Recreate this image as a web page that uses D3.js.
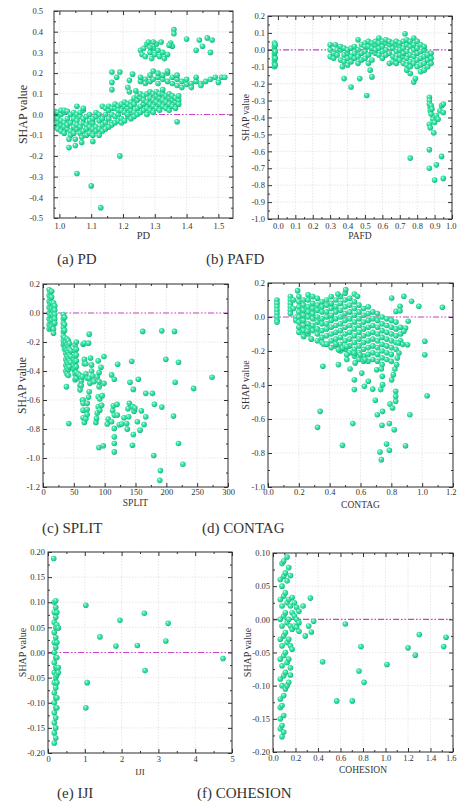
<!DOCTYPE html>
<html><head><meta charset="utf-8">
<script src="https://cdn.jsdelivr.net/npm/d3@7"></script>
<style>
body{margin:0;background:#fff}
svg{display:block}
text{font-family:"Liberation Serif","Times New Roman",serif;fill:#333}
</style>
</head><body>
<svg id="chart" width="457" height="802"></svg>
<script>
// ---------------- DATA ----------------
const pdXTicks = [1.0,1.1,1.2,1.3,1.4,1.5];
const pdYTicks = [-0.5,-0.4,-0.3,-0.2,-0.1,0.0,0.1,0.2,0.3,0.4,0.5];
const pdShap = [
[0.975,0.01],[0.975,-0.03],[0.975,-0.05],
[0.985,0.0],[0.985,-0.06],[0.985,0.015],[0.985,-0.02],
[0.995,-0.04],[0.995,0.01],[0.995,-0.07],[0.995,-0.02],
[1.005,0.0],[1.005,-0.05],[1.005,0.02],[1.005,-0.08],[1.005,-0.03],
[1.015,0.01],[1.015,-0.04],[1.015,-0.09],[1.015,-0.06],[1.015,0.02],
[1.025,-0.02],[1.025,-0.07],[1.025,0.015],[1.025,-0.05],
[1.035,0.0],[1.035,-0.04],[1.035,-0.08],[1.035,-0.1],
[1.045,-0.02],[1.045,-0.06],[1.045,0.01],[1.045,-0.09],
[1.055,-0.03],[1.055,-0.07],[1.055,0.0],[1.055,-0.05],
[1.065,-0.01],[1.065,-0.06],[1.065,-0.09],[1.065,0.01],
[1.075,-0.04],[1.075,-0.02],[1.075,-0.08],[1.075,0.02],
[1.085,-0.05],[1.085,-0.01],[1.085,-0.07],[1.085,-0.1],
[1.095,-0.03],[1.095,-0.06],[1.095,0.0],[1.095,-0.09],
[1.105,-0.04],[1.105,-0.07],[1.105,-0.02],[1.105,-0.1],
[1.115,-0.06],[1.115,-0.01],[1.115,-0.08],[1.115,0.01],
[1.125,-0.03],[1.125,-0.07],[1.125,-0.1],[1.125,0.0],
[1.135,-0.05],[1.135,-0.02],[1.135,-0.08],[1.135,0.04],
[1.145,-0.04],[1.145,0.0],[1.145,-0.07],[1.145,0.03],
[1.155,-0.02],[1.155,-0.06],[1.155,0.02],[1.155,0.04],
[1.165,-0.04],[1.165,0.0],[1.165,-0.05],[1.165,0.03],
[1.175,-0.01],[1.175,0.03],[1.175,-0.04],[1.175,0.05],
[1.185,0.0],[1.185,-0.03],[1.185,0.04],[1.185,0.02],
[1.195,0.02],[1.195,-0.02],[1.195,0.05],[1.195,-0.04],
[1.205,0.01],[1.205,0.04],[1.205,-0.03],[1.205,0.06],
[1.215,0.03],[1.215,-0.01],[1.215,0.05],[1.215,0.0],
[1.225,0.02],[1.225,0.06],[1.225,-0.02],[1.225,0.04],
[1.235,0.01],[1.235,0.05],[1.235,0.08],[1.235,-0.01],
[1.245,0.03],[1.245,0.07],[1.245,0.0],[1.245,0.09],
[1.255,0.04],[1.255,0.08],[1.255,0.01],[1.255,0.1],
[1.265,0.05],[1.265,0.02],[1.265,0.09],[1.265,0.07],
[1.275,0.03],[1.275,0.06],[1.275,0.1],[1.275,0.0],
[1.285,0.05],[1.285,0.08],[1.285,0.02],[1.285,0.11],
[1.295,0.04],[1.295,0.07],[1.295,0.1],[1.295,0.01],
[1.305,0.06],[1.305,0.09],[1.305,0.03],[1.305,0.11],
[1.315,0.05],[1.315,0.08],[1.315,0.02],[1.315,0.1],
[1.325,0.07],[1.325,0.04],[1.325,0.1],[1.325,0.12],
[1.335,0.06],[1.335,0.09],[1.335,0.03],
[1.345,0.05],[1.345,0.08],[1.345,0.1],[1.345,0.02],
[1.355,0.07],[1.355,0.04],[1.355,0.09],
[1.365,0.06],[1.365,0.08],[1.365,0.03],
[1.375,0.07],[1.375,0.09],[1.375,0.05],
// 0.17 band
[1.255,0.16],[1.255,0.18],[1.27,0.17],[1.27,0.15],[1.285,0.19],[1.285,0.16],
[1.295,0.21],[1.295,0.17],[1.31,0.18],[1.31,0.15],[1.31,0.2],[1.325,0.17],[1.325,0.19],
[1.34,0.2],[1.34,0.16],[1.34,0.21],[1.355,0.18],[1.355,0.15],[1.37,0.17],[1.37,0.14],[1.37,0.19],
[1.385,0.16],[1.385,0.13],[1.40,0.17],[1.40,0.145],[1.415,0.15],[1.415,0.13],
[1.43,0.16],[1.43,0.18],[1.445,0.15],[1.445,0.14],[1.46,0.16],[1.475,0.17],
[1.49,0.18],[1.50,0.155],[1.51,0.18],[1.52,0.18],
// top cluster
[1.255,0.31],[1.26,0.29],[1.265,0.32],[1.27,0.28],[1.275,0.34],[1.28,0.35],[1.285,0.30],
[1.29,0.27],[1.295,0.32],[1.30,0.29],[1.305,0.34],[1.31,0.31],[1.315,0.28],[1.32,0.35],
[1.325,0.30],[1.33,0.27],[1.34,0.29],[1.35,0.345],[1.355,0.33],[1.295,0.35],[1.285,0.325],
[1.36,0.41],[1.36,0.39],[1.40,0.365],[1.44,0.36],[1.465,0.37],[1.48,0.36],
[1.43,0.31],[1.45,0.33],[1.475,0.30],[1.345,0.335],
// mid scattered
[1.165,0.205],[1.165,0.155],[1.165,0.12],[1.18,0.18],[1.19,0.205],[1.215,0.13],
[1.22,0.165],[1.23,0.195],[1.22,0.11],[1.24,0.115],
// outliers
[1.03,-0.16],[1.03,-0.12],[1.05,-0.15],[1.05,-0.12],[1.07,-0.11],[1.07,-0.135],
[1.055,-0.285],[1.10,-0.345],[1.13,-0.45],[1.19,-0.20],[1.105,-0.13],[1.37,-0.035],
[1.055,0.04],[1.075,0.03]
];

const pafdXTicks = [0.0,0.1,0.2,0.3,0.4,0.5,0.6,0.7,0.8,0.9,1.0];
const pafdYTicks = [-1.0,-0.9,-0.8,-0.7,-0.6,-0.5,-0.4,-0.3,-0.2,-0.1,0.0,0.1,0.2];
const pafdShap = [
[-0.02,-0.1],[-0.02,-0.08],[-0.02,-0.06],[-0.02,-0.04],[-0.02,-0.02],[-0.02,0.0],[-0.02,0.02],
[-0.02,0.04],[-0.015,-0.09],[-0.015,-0.05],[-0.015,-0.01],[-0.015,0.03],
[0.30,-0.04],[0.30,0.0],[0.30,0.03],[0.32,-0.02],[0.32,-0.05],[0.33,0.03],[0.34,0.0],[0.34,-0.03],
[0.36,-0.06],[0.36,0.0],[0.36,0.02],[0.38,-0.03],[0.38,-0.07],[0.38,0.01],
[0.40,-0.02],[0.40,-0.09],[0.40,0.0],[0.40,-0.05],[0.42,0.01],[0.42,-0.04],[0.42,-0.07],
[0.44,-0.02],[0.44,0.02],[0.44,-0.05],[0.46,0.06],[0.46,0.0],[0.46,-0.04],[0.46,-0.08],
[0.48,-0.02],[0.48,0.03],[0.48,-0.06],[0.50,0.04],[0.50,-0.01],[0.50,-0.05],[0.50,0.02],
[0.52,0.02],[0.52,-0.03],[0.52,0.05],[0.52,-0.08],[0.54,0.04],[0.54,-0.01],[0.54,0.01],[0.54,-0.06],
[0.56,0.03],[0.56,-0.02],[0.56,0.05],[0.56,0.0],[0.58,0.07],[0.58,0.01],[0.58,-0.03],[0.58,0.04],
[0.60,0.02],[0.60,0.05],[0.60,-0.01],[0.60,-0.05],[0.62,0.04],[0.62,0.0],[0.62,0.06],[0.62,-0.03],
[0.64,0.03],[0.64,-0.02],[0.64,0.05],[0.64,-0.08],[0.66,0.01],[0.66,0.04],[0.66,-0.04],[0.66,-0.07],
[0.68,0.03],[0.68,-0.01],[0.68,0.05],[0.68,-0.05],[0.68,-0.08],
[0.70,0.02],[0.70,-0.03],[0.70,0.04],[0.70,-0.06],[0.70,0.0],
[0.72,0.05],[0.72,0.01],[0.72,-0.04],[0.72,-0.08],[0.72,-0.02],[0.73,0.095],
[0.74,0.03],[0.74,-0.01],[0.74,-0.05],[0.74,-0.09],[0.74,0.06],
[0.76,0.02],[0.76,-0.03],[0.76,0.05],[0.76,-0.07],[0.76,-0.10],
[0.78,0.07],[0.78,0.0],[0.78,-0.04],[0.78,-0.08],[0.78,0.03],
[0.80,0.05],[0.80,-0.02],[0.80,-0.06],[0.80,-0.10],[0.80,0.01],
[0.82,0.03],[0.82,-0.01],[0.82,-0.05],[0.82,-0.09],[0.82,-0.13],
[0.84,0.0],[0.84,-0.04],[0.84,-0.08],[0.84,-0.12],[0.84,0.02],
[0.86,-0.02],[0.86,-0.06],[0.86,-0.10],[0.86,-0.03],[0.88,-0.05],[0.88,-0.02],[0.88,-0.08],
[0.37,-0.10],[0.38,-0.17],[0.42,-0.22],[0.47,-0.17],[0.51,-0.27],[0.54,-0.16],[0.53,-0.12],
[0.76,-0.64],[0.78,-0.19],[0.79,-0.17],[0.76,-0.14],[0.74,-0.12],
[0.87,-0.28],[0.87,-0.30],[0.87,-0.32],[0.875,-0.34],[0.875,-0.36],[0.88,-0.38],[0.87,-0.44],
[0.875,-0.46],[0.88,-0.33],[0.885,-0.35],[0.89,-0.41],[0.895,-0.49],[0.90,-0.43],[0.91,-0.39],
[0.92,-0.41],[0.93,-0.36],[0.94,-0.33],[0.95,-0.32],[0.95,-0.37],
[0.87,-0.59],[0.87,-0.70],[0.91,-0.68],[0.94,-0.63],[0.90,-0.77],[0.95,-0.76]
];

const splitXTicks = [0,50,100,150,200,250,300];
const splitYTicks = [-1.2,-1.0,-0.8,-0.6,-0.4,-0.2,0.0,0.2];
const splitShap = [
[10,0.16],[10,0.12],[10,0.08],[10,0.04],[10,0.0],[10,-0.04],[10,-0.08],[10,-0.11],
[12,0.14],[12,0.10],[12,0.06],[12,0.02],[12,-0.02],[12,-0.06],[12,-0.10],
[14,0.15],[14,0.11],[14,0.07],[14,0.03],[14,-0.01],[14,-0.05],[14,-0.09],
[17,0.07],[17,0.04],[17,0.01],[17,-0.02],[17,-0.05],[17,-0.08],[17,-0.11],[17,-0.14],
[19,0.05],[19,0.02],[19,-0.01],[19,-0.04],[19,-0.07],
[33,-0.01],[33,-0.04],[33,-0.07],[33,-0.10],[33,-0.13],[33,-0.16],[33,-0.19],[33,-0.22],
[35,-0.03],[35,-0.08],[35,-0.12],[35,-0.17],[35,-0.21],[35,-0.25],
[37,-0.20],[37,-0.24],[37,-0.28],[37,-0.32],[37,-0.36],[37,-0.40],
[39,-0.18],[39,-0.22],[39,-0.26],[39,-0.30],[39,-0.34],[39,-0.38],[39,-0.42],
[41,-0.19],[41,-0.23],[41,-0.27],[41,-0.31],[41,-0.35],[41,-0.39],[41,-0.43],
[43,-0.21],[43,-0.25],[43,-0.29],[43,-0.33],[43,-0.37],[45,-0.26],[45,-0.30],[45,-0.34],
[38,-0.508],[41.8,-0.762],
[50,-0.32],[50,-0.36],[50,-0.39],
[52,-0.22],[52,-0.26],[52,-0.30],[52,-0.34],[52,-0.38],[52,-0.42],[52,-0.46],
[54,-0.20],[54,-0.25],[54,-0.29],[54,-0.33],[54,-0.37],[54,-0.41],[54,-0.45],
[57,-0.42],[60,-0.43],[60,-0.50],[60,-0.53],[62,-0.45],[62,-0.47],[62,-0.50],[64,-0.44],[64,-0.60],
[65,-0.215],[65,-0.60],[65,-0.623],[65,-0.67],[65,-0.722],[67,-0.208],[67,-0.32],[67,-0.35],[67,-0.755],
[69.5,-0.42],[69.5,-0.35],[69.5,-0.73],[71.6,-0.45],[71.6,-0.623],[71.6,-0.665],[71.6,-0.70],
[73.8,-0.208],[73.8,-0.58],[74.9,-0.146],[74.9,-0.45],[74.9,-0.543],[76,-0.485],[77,-0.31],
[78.7,-0.358],[78.7,-0.40],[80.8,-0.434],[82.5,-0.473],[85.7,-0.755],[86.8,-0.727],
[87.9,-0.69],[87.9,-0.44],[89.5,-0.647],[89.5,-0.578],[89.5,-0.33],[91,-0.508],[91,-0.473],
[91,-0.41],[92,-0.67],[92,-0.593],[94,-0.374],[95,-0.637],[96,-0.57],[98.8,-0.30],[98.8,-0.485],
[90.6,-0.928],[97.7,-0.916],
[105.8,-0.732],[104.2,-0.766],[111.2,-0.75],[111.2,-0.427],[112.9,-0.672],[114,-0.64],
[115.6,-0.457],[115.6,-0.704],[115.6,-0.796],[115.6,-0.854],[115.6,-0.90],[115.6,-0.958],
[120,-0.63],[120.5,-0.704],[121,-0.353],[123.8,-0.771],[127.5,-0.766],[131.3,-0.722],
[135.6,-0.762],[136.7,-0.801],[137.8,-0.66],[138.9,-0.716],[140,-0.623],[141,-0.478],
[143.8,-0.333],[145,-0.912],[145.5,-0.646],[146.5,-0.527],[146.5,-0.838],[147.6,-0.677],
[149,-0.655],[153,-0.75],[154.6,-0.457],[157.4,-0.808],[159.5,-0.674],[161.7,-0.127],
[163.9,-0.769],[166.6,-0.554],[166.6,-0.716],[177.4,-0.554],[179.6,-0.983],[180.7,-0.63],
[189.3,-1.154],[190.4,-1.087],[192.6,-0.123],[192.6,-0.649],[199.1,-0.319],[211.6,-0.711],
[213.2,-0.127],[214.3,-0.478],[219.7,-0.34],[219.7,-0.90],[226.8,-1.043],[244.2,-0.52],[274,-0.443]
];

const contagXTicks = [0.0,0.2,0.4,0.6,0.8,1.0,1.2];
const contagYTicks = [-1.0,-0.8,-0.6,-0.4,-0.2,0.0,0.2];
const contagShap = [
[0.058,0.10],[0.058,0.08],[0.058,0.06],[0.058,0.04],[0.058,0.02],[0.058,0.0],[0.058,-0.02],[0.058,-0.03],
[0.145,0.12],[0.145,0.10],[0.145,0.08],[0.145,0.06],[0.145,0.04],[0.145,0.02],
[0.165,0.10],[0.165,0.05],[0.18,0.0],[0.18,-0.02],[0.192,0.155],
[0.20,0.12],[0.20,0.09],[0.20,0.06],[0.20,0.03],[0.20,0.0],[0.20,-0.03],[0.20,-0.06],[0.20,-0.09],
[0.23,0.10],[0.23,0.07],[0.23,0.04],[0.23,0.01],[0.23,-0.02],[0.23,-0.05],[0.23,-0.08],[0.23,-0.11],
[0.26,0.13],[0.26,0.10],[0.26,0.06],[0.26,0.03],[0.26,0.0],[0.26,-0.04],[0.26,-0.07],[0.26,-0.10],
[0.29,0.12],[0.29,0.08],[0.29,0.05],[0.29,0.02],[0.29,-0.01],[0.29,-0.05],[0.29,-0.08],[0.28,-0.13],
[0.32,0.11],[0.32,0.07],[0.32,0.04],[0.32,0.0],[0.32,-0.03],[0.32,-0.07],[0.32,-0.10],[0.32,-0.14],
[0.35,0.09],[0.35,0.06],[0.35,0.03],[0.35,-0.01],[0.35,-0.04],[0.35,-0.08],[0.35,-0.12],[0.35,-0.15],
[0.38,0.10],[0.38,0.07],[0.38,0.03],[0.38,0.0],[0.38,-0.04],[0.38,-0.07],[0.38,-0.11],[0.38,-0.16],
[0.41,0.12],[0.41,0.08],[0.41,0.05],[0.41,0.01],[0.41,-0.02],[0.41,-0.06],[0.41,-0.10],[0.41,-0.14],[0.41,-0.18],
[0.44,0.10],[0.44,0.06],[0.44,0.03],[0.44,-0.01],[0.44,-0.05],[0.44,-0.09],[0.44,-0.13],[0.44,-0.17],
[0.47,0.12],[0.47,0.08],[0.47,0.04],[0.47,0.0],[0.47,-0.04],[0.47,-0.08],[0.47,-0.12],[0.47,-0.16],[0.47,-0.20],
[0.50,0.14],[0.50,0.10],[0.50,0.06],[0.50,0.02],[0.50,-0.02],[0.50,-0.06],[0.50,-0.10],[0.50,-0.14],[0.50,-0.19],
[0.53,0.11],[0.53,0.07],[0.53,0.03],[0.53,-0.01],[0.53,-0.05],[0.53,-0.09],[0.53,-0.13],[0.53,-0.17],[0.53,-0.21],
[0.56,0.09],[0.56,0.05],[0.56,0.01],[0.56,-0.03],[0.56,-0.07],[0.56,-0.11],[0.56,-0.15],[0.56,-0.19],[0.56,-0.23],
[0.59,0.07],[0.59,0.03],[0.59,-0.01],[0.59,-0.05],[0.59,-0.09],[0.59,-0.13],[0.59,-0.17],[0.59,-0.21],[0.59,-0.25],
[0.62,0.05],[0.62,0.01],[0.62,-0.03],[0.62,-0.07],[0.62,-0.11],[0.62,-0.15],[0.62,-0.19],[0.62,-0.23],[0.62,-0.26],
[0.65,0.06],[0.65,0.02],[0.65,-0.02],[0.65,-0.06],[0.65,-0.10],[0.65,-0.14],[0.65,-0.18],[0.65,-0.22],[0.65,-0.26],
[0.68,0.03],[0.68,-0.01],[0.68,-0.05],[0.68,-0.09],[0.68,-0.13],[0.68,-0.17],[0.68,-0.21],[0.68,-0.25],
[0.71,0.02],[0.71,-0.02],[0.71,-0.06],[0.71,-0.10],[0.71,-0.14],[0.71,-0.18],[0.71,-0.22],[0.71,-0.26],
[0.74,0.0],[0.74,-0.04],[0.74,-0.08],[0.74,-0.12],[0.74,-0.16],[0.74,-0.20],[0.74,-0.24],[0.74,-0.28],
[0.77,-0.01],[0.77,-0.05],[0.77,-0.09],[0.77,-0.13],[0.77,-0.17],[0.77,-0.21],[0.77,-0.25],
[0.80,-0.02],[0.80,-0.06],[0.80,-0.10],[0.80,-0.14],[0.80,-0.18],[0.80,-0.22],[0.80,-0.26],
[0.83,-0.03],[0.83,-0.07],[0.83,-0.11],[0.83,-0.15],[0.83,-0.19],[0.86,-0.06],[0.86,-0.10],[0.86,-0.14],
[0.453,0.135],[0.504,0.161],[0.56,0.135],[0.58,0.122],
[0.282,-0.129],[0.256,-0.084],[0.231,-0.114],[0.36,-0.159],[0.381,-0.159],[0.44,-0.159],
[0.457,-0.192],[0.483,-0.182],[0.511,-0.173],[0.511,-0.222],[0.511,-0.25],[0.532,-0.306],
[0.558,-0.212],[0.565,-0.27],[0.597,-0.222],[0.629,-0.25],
[0.356,-0.29],[0.338,-0.555],[0.321,-0.649],[0.483,-0.755],[0.55,-0.627],[0.56,-0.427],
[0.56,-0.369],[0.457,-0.28],[0.608,-0.33],[0.625,-0.408],[0.651,-0.378],[0.679,-0.424],
[0.696,-0.49],[0.709,-0.575],[0.705,-0.31],[0.735,-0.306],[0.731,-0.427],[0.741,-0.349],
[0.743,-0.398],[0.743,-0.555],[0.739,-0.637],[0.726,-0.794],[0.735,-0.839],[0.769,-0.747],
[0.787,-0.784],[0.787,-0.627],[0.791,-0.512],[0.808,-0.535],[0.802,-0.369],[0.813,-0.339],
[0.823,-0.306],[0.834,-0.28],[0.828,-0.437],[0.828,-0.467],[0.828,-0.496],[0.819,-0.663],
[0.802,0.112],[0.881,0.122],[0.931,0.092],[0.978,0.063],[1.131,0.057],[1.017,-0.143],
[1.017,-0.222],[1.032,-0.463],[0.92,-0.575],[0.892,-0.757],[0.905,-0.163],[0.873,-0.161],
[0.845,-0.153],[0.909,-0.025],[0.892,-0.065],[0.881,-0.084],[0.856,0.063],[0.83,0.033],
[0.856,0.037],[0.849,-0.212],[0.838,-0.241]
];

const ijiXTicks = [0,1,2,3,4,5];
const ijiYTicks = [-0.20,-0.15,-0.10,-0.05,0.00,0.05,0.10,0.15,0.20];
const ijiShap = [
[0.155,0.187],
[0.17,0.10],[0.17,0.08],[0.17,0.06],[0.17,0.04],[0.17,0.02],[0.17,0.0],[0.17,-0.02],[0.17,-0.04],
[0.17,-0.06],[0.17,-0.08],[0.17,-0.10],[0.17,-0.12],[0.17,-0.14],[0.17,-0.16],[0.17,-0.18],
[0.21,0.103],[0.21,0.09],[0.21,0.07],[0.21,0.05],[0.21,0.03],[0.21,0.01],[0.21,-0.01],[0.21,-0.03],
[0.21,-0.05],[0.21,-0.07],[0.21,-0.09],[0.21,-0.11],[0.21,-0.13],[0.21,-0.15],[0.21,-0.17],
[0.24,0.08],[0.24,0.055],[0.24,0.02],[0.24,-0.01],[0.24,-0.03],[0.24,-0.045],[0.24,-0.06],
[0.24,-0.09],[0.24,-0.11],[0.28,0.049],[0.28,-0.03],[0.28,-0.04],
[1.027,0.094],[1.41,0.031],[1.845,0.013],[1.955,0.064],[2.427,0.014],[2.618,0.078],
[2.636,-0.036],[3.2,0.023],[3.264,0.058],[4.755,-0.012],[1.064,-0.06],[1.027,-0.11]
];

const cohesionXTicks = [0.0,0.2,0.4,0.6,0.8,1.0,1.2,1.4,1.6];
const cohesionYTicks = [-0.20,-0.15,-0.10,-0.05,0.00,0.05,0.10];
const cohesionShap = [
[0.065,0.06],[0.065,0.03],[0.065,0.0],[0.065,-0.03],[0.065,-0.06],[0.065,-0.09],[0.065,-0.12],
[0.065,-0.133],[0.065,-0.15],[0.065,-0.165],
[0.08,0.084],[0.08,0.05],[0.08,0.02],[0.08,-0.01],[0.08,-0.04],[0.08,-0.07],[0.08,-0.10],
[0.08,-0.13],[0.08,-0.16],[0.08,-0.177],
[0.095,0.088],[0.095,0.065],[0.095,0.035],[0.095,0.005],[0.095,-0.025],[0.095,-0.055],
[0.095,-0.085],[0.095,-0.115],[0.095,-0.145],[0.095,-0.17],
[0.11,0.07],[0.11,0.04],[0.11,0.01],[0.11,-0.02],[0.11,-0.05],[0.11,-0.08],[0.11,-0.105],
[0.125,0.094],[0.125,0.058],[0.125,0.025],[0.125,-0.005],[0.125,-0.035],[0.125,-0.065],[0.125,-0.10],
[0.14,0.078],[0.14,0.03],[0.14,0.0],[0.14,-0.03],[0.14,-0.06],[0.14,-0.095],
[0.155,0.066],[0.155,0.02],[0.155,-0.01],[0.155,-0.04],[0.155,-0.073],[0.155,-0.084],
[0.17,0.033],[0.17,0.01],[0.17,-0.015],[0.17,-0.045],
[0.19,0.025],[0.19,0.005],[0.19,-0.01],[0.21,0.018],[0.21,0.0],[0.21,-0.012],[0.23,0.012],[0.23,-0.005],
[0.267,0.02],[0.332,0.032],[0.231,-0.018],[0.287,-0.025],[0.317,-0.01],[0.341,-0.019],[0.361,-0.003],
[0.441,-0.064],[0.566,-0.123],[0.643,-0.007],[0.705,-0.123],[0.764,-0.078],[0.782,-0.041],
[0.809,-0.095],[1.013,-0.068],[1.2,-0.043],[1.265,-0.054],[1.3,-0.023],[1.517,-0.041],[1.538,-0.027]
];

// ---------------- LAYOUT ----------------
const panels = [
 {data:pdShap, xd:[0.983,1.546], yd:[-0.5,0.5], xt:pdXTicks, yt:pdYTicks, xdec:1, ydec:1,
  box:[54,11,233,218], xTitle:"PD", cap:"(a) PD", capPos:[57,264], ytx:23, xtyb:239, xts:10.5, yts:12, xpad:5, ypad:11},
 {data:pafdShap, xd:[-0.057,1.0], yd:[-1.0,0.2], xt:pafdXTicks, yt:pafdYTicks, xdec:1, ydec:1,
  box:[268,16,452,219], xTitle:"PAFD", cap:"(b) PAFD", capPos:[206,264], ytx:246, xtyb:239, xts:9.5, yts:9.5, xpad:4, ypad:3},
 {data:splitShap, xd:[0,300], yd:[-1.2,0.2], xt:splitXTicks, yt:splitYTicks, xdec:0, ydec:1,
  box:[43,284,228,487], xTitle:"SPLIT", cap:"(c) SPLIT", capPos:[42,533], ytx:22, xtyb:506, xts:9.5, yts:11.5, xpad:2, ypad:3},
 {data:contagShap, xd:[0,1.2], yd:[-1.0,0.2], xt:contagXTicks, yt:contagYTicks, xdec:1, ydec:1,
  box:[268,283,453,487], xTitle:"CONTAG", cap:"(d) CONTAG", capPos:[202,533], ytx:245, xtyb:508, xts:9.5, yts:10, xpad:2, ypad:3},
 {data:ijiShap, xd:[0,5], yd:[-0.2,0.2], xt:ijiXTicks, yt:ijiYTicks, xdec:0, ydec:2,
  box:[48,552,232,753], xTitle:"IJI", cap:"(e) IJI", capPos:[57,798], ytx:22, xtyb:775, xts:9, yts:10, xpad:3, ypad:3},
 {data:cohesionShap, xd:[0,1.6], yd:[-0.2,0.1], xt:cohesionXTicks, yt:cohesionYTicks, xdec:1, ydec:2,
  box:[273,553,453,752], xTitle:"COHESION", cap:"(f) COHESION", capPos:[197,798], ytx:247, xtyb:773, xts:9.5, yts:10, xpad:3, ypad:3}
];

const W = 457;
const svg = d3.select("#chart");
const defs = svg.append("defs");
const grad = defs.append("radialGradient").attr("id","ball")
  .attr("cx","0.45").attr("cy","0.45").attr("r","0.6").attr("fx","0.35").attr("fy","0.3");
grad.append("stop").attr("offset","0").attr("stop-color","#e8fff5");
grad.append("stop").attr("offset","0.3").attr("stop-color","#52eab2");
grad.append("stop").attr("offset","0.75").attr("stop-color","#1ed391");
grad.append("stop").attr("offset","1").attr("stop-color","#10a06c");

function minorsOf(t){ const m=[]; for(let i=0;i<t.length-1;i++) m.push((t[i]+t[i+1])/2); return m; }

panels.forEach((p,pi)=>{
  const [L,T,R,B] = p.box;
  const x = d3.scaleLinear().domain(p.xd).range([L,R]);
  const y = d3.scaleLinear().domain(p.yd).range([B,T]);
  const g = svg.append("g");
  const clipId = "clip"+pi;
  defs.append("clipPath").attr("id",clipId).append("rect").attr("x",L).attr("y",T).attr("width",R-L).attr("height",B-T);

  const grid = g.append("g").attr("stroke","#dcdcdc").attr("stroke-width",0.7).attr("stroke-dasharray","1.5,1.5");
  grid.selectAll(".gx").data(p.xt).join("line").attr("x1",d=>x(d)).attr("x2",d=>x(d)).attr("y1",T).attr("y2",B);
  grid.selectAll(".gy").data(p.yt).join("line").attr("y1",d=>y(d)).attr("y2",d=>y(d)).attr("x1",L).attr("x2",R);

  g.append("line").attr("x1",L).attr("x2",R).attr("y1",y(0)).attr("y2",y(0))
    .attr("stroke","#cc44cc").attr("stroke-width",1.2).attr("stroke-dasharray","6,2,1.5,2,1.5,2");

  g.append("g").attr("clip-path",`url(#${clipId})`).selectAll("circle").data(p.data).join("circle")
    .attr("cx",d=>x(d[0])).attr("cy",d=>y(d[1])).attr("r",2.8).attr("fill","url(#ball)");

  g.append("rect").attr("x",L).attr("y",T).attr("width",R-L).attr("height",B-T)
    .attr("fill","none").attr("stroke","#333").attr("stroke-width",1);

  const fx = d=> d3.format("."+p.xdec+"f")(d).replace("\u2212","-");
  const fy = d=> d3.format("."+p.ydec+"f")(d).replace("\u2212","-");
  const style = sel=>{ sel.select(".domain").remove(); sel.selectAll("line").attr("stroke","#333");
    sel.selectAll("text").attr("font-size",8.5).attr("fill","#333"); };

  const bottom = g.append("g").attr("transform",`translate(0,${B})`)
    .call(d3.axisBottom(x).tickValues(p.xt).tickSizeInner(-4).tickSizeOuter(0).tickPadding(p.xpad).tickFormat(fx)).call(style);
  // keep the last tick label inside the page
  bottom.selectAll(".tick text").each(function(d){
    const bb = this.getBBox(); const right = x(d) + bb.x + bb.width;
    if (right > W - 1) d3.select(this).attr("x", (W - 1) - right);
  });
  g.append("g").attr("transform",`translate(0,${B})`)
    .call(d3.axisBottom(x).tickValues(minorsOf(p.xt)).tickSizeInner(-2).tickSizeOuter(0).tickFormat("")).call(style);
  g.append("g").attr("transform",`translate(0,${T})`)
    .call(d3.axisTop(x).tickValues(p.xt).tickSizeInner(-4).tickSizeOuter(0).tickFormat("")).call(style);
  g.append("g").attr("transform",`translate(0,${T})`)
    .call(d3.axisTop(x).tickValues(minorsOf(p.xt)).tickSizeInner(-2).tickSizeOuter(0).tickFormat("")).call(style);
  g.append("g").attr("transform",`translate(${L},0)`)
    .call(d3.axisLeft(y).tickValues(p.yt).tickSizeInner(-4).tickSizeOuter(0).tickPadding(p.ypad).tickFormat(fy)).call(style);
  g.append("g").attr("transform",`translate(${L},0)`)
    .call(d3.axisLeft(y).tickValues(minorsOf(p.yt)).tickSizeInner(-2).tickSizeOuter(0).tickFormat("")).call(style);
  g.append("g").attr("transform",`translate(${R},0)`)
    .call(d3.axisRight(y).tickValues(p.yt).tickSizeInner(-4).tickSizeOuter(0).tickFormat("")).call(style);
  g.append("g").attr("transform",`translate(${R},0)`)
    .call(d3.axisRight(y).tickValues(minorsOf(p.yt)).tickSizeInner(-2).tickSizeOuter(0).tickFormat("")).call(style);

  g.append("text").attr("x",(L+R)/2).attr("y",p.xtyb).attr("text-anchor","middle")
    .attr("font-size",p.xts).text(p.xTitle);
  g.append("text").attr("transform",`translate(${p.ytx},${(T+B)/2}) rotate(-90)`)
    .attr("text-anchor","middle").attr("dy","0.35em").attr("font-size",p.yts).text("SHAP value");
  g.append("text").attr("x",p.capPos[0]).attr("y",p.capPos[1]).attr("font-size",15).attr("fill","#222").text(p.cap);
});
</script>
</body></html>
